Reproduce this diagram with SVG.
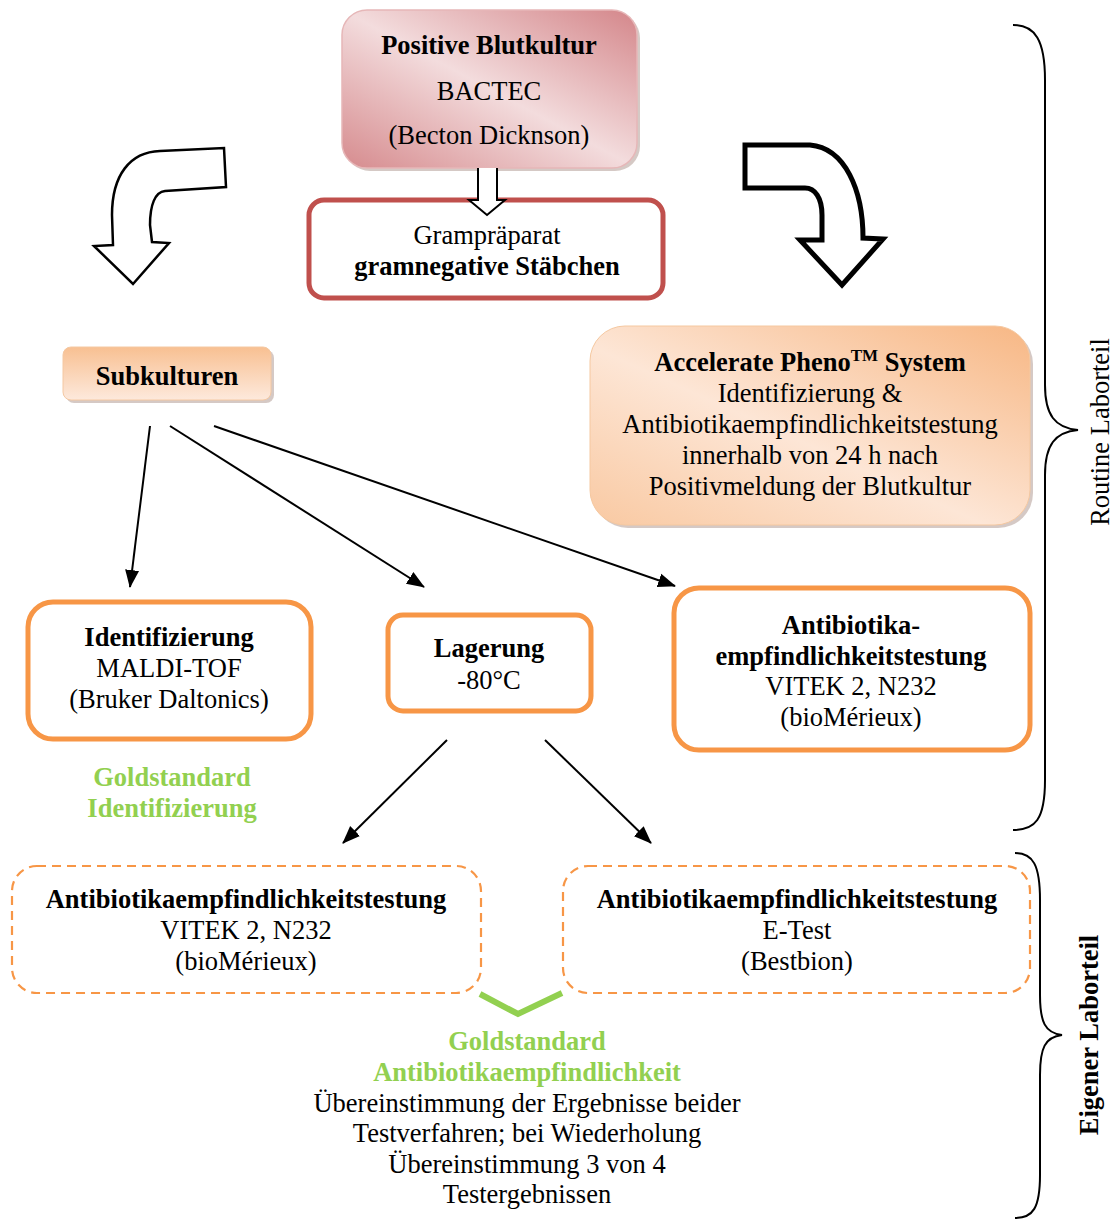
<svg xmlns="http://www.w3.org/2000/svg" width="1116" height="1220" viewBox="0 0 1116 1220">
<defs>
<linearGradient id="gPink" x1="1" y1="0" x2="0" y2="1">
<stop offset="0" stop-color="#d4868a"/>
<stop offset="0.5" stop-color="#f3dcdd"/>
<stop offset="1" stop-color="#d68b8e"/>
</linearGradient>
<linearGradient id="gOr" x1="1" y1="0" x2="0" y2="1">
<stop offset="0" stop-color="#f7b784"/>
<stop offset="0.55" stop-color="#fde6d6"/>
<stop offset="1" stop-color="#f9c9a2"/>
</linearGradient>
<linearGradient id="gOr2" x1="0" y1="0" x2="0" y2="1">
<stop offset="0" stop-color="#f8c092"/>
<stop offset="1" stop-color="#fde9dc"/>
</linearGradient>
<marker id="ahL" markerWidth="18" markerHeight="16" refX="17" refY="8" orient="auto" markerUnits="userSpaceOnUse" viewBox="0 0 18 16">
<path d="M0,1 L18,8 L0,15 Z" fill="#000"/>
</marker>
</defs>
<style>
text{font-family:"Liberation Serif","Times New Roman",serif;font-size:26.5px;fill:#000;text-anchor:middle}
.b{font-weight:bold}
.g{fill:#92d050;font-weight:bold}
.solid{fill:#fff;stroke:#f79646;stroke-width:5}
.dash{fill:#fff;stroke:#f79646;stroke-width:2.2;stroke-dasharray:9 6}
.conn{stroke:#000;stroke-width:2;fill:none}
.shadow{fill:#b9a59f;opacity:0.6}
</style>
<rect width="1116" height="1220" fill="#fff"/>

<g id="blutkultur">
<rect x="345" y="13" width="295" height="158" rx="25" class="shadow"/>
<rect x="342" y="10" width="295" height="158" rx="25" fill="url(#gPink)" stroke="#e6b7b8" stroke-width="1.5"/>
<text class="b" x="489" y="54">Positive Blutkultur</text>
<text x="489" y="100">BACTEC</text>
<text x="489" y="144">(Becton Dicknson)</text>
</g>

<g id="gram">
<rect x="309" y="200" width="354" height="98" rx="15" fill="#fff" stroke="#c0504d" stroke-width="5"/>
<text x="487" y="244">Grampräparat</text>
<text class="b" x="487" y="275">gramnegative Stäbchen</text>
</g>

<g id="subkulturen">
<rect x="66" y="350" width="208" height="53" rx="8" class="shadow"/>
<rect x="63" y="347" width="208" height="53" rx="8" fill="url(#gOr2)" stroke="#f4c8a2" stroke-width="1"/>
<text class="b" x="167" y="385">Subkulturen</text>
</g>

<g id="accelerate">
<rect x="593" y="329" width="440" height="199" rx="35" class="shadow"/>
<rect x="590" y="326" width="440" height="199" rx="35" fill="url(#gOr)" stroke="#f5c8a0" stroke-width="1"/>
<text class="b" x="810" y="371">Accelerate Pheno<tspan dy="-10" font-size="17">TM</tspan><tspan dy="10"> System</tspan></text>
<text x="810" y="402">Identifizierung &amp;</text>
<text x="810" y="433">Antibiotikaempfindlichkeitstestung</text>
<text x="810" y="464">innerhalb von 24 h nach</text>
<text x="810" y="495">Positivmeldung der Blutkultur</text>
</g>

<g id="identifizierung">
<rect x="28" y="602" width="283" height="137" rx="25" class="solid"/>
<text class="b" x="169" y="646">Identifizierung</text>
<text x="169" y="677">MALDI-TOF</text>
<text x="169" y="708">(Bruker Daltonics)</text>
</g>

<g id="lagerung">
<rect x="388" y="615" width="203" height="96" rx="15" class="solid"/>
<text class="b" x="489" y="657">Lagerung</text>
<text x="489" y="689">-80°C</text>
</g>

<g id="ast-routine">
<rect x="674" y="588" width="356" height="162" rx="25" class="solid"/>
<text class="b" x="851" y="634">Antibiotika-</text>
<text class="b" x="851" y="665">empfindlichkeitstestung</text>
<text x="851" y="695">VITEK 2, N232</text>
<text x="851" y="726">(bioMérieux)</text>
</g>

<g id="gold-id">
<text class="g" x="172" y="786">Goldstandard</text>
<text class="g" x="172" y="817">Identifizierung</text>
</g>

<g id="ast-vitek">
<rect x="12" y="866" width="469" height="127" rx="25" class="dash"/>
<text class="b" x="246" y="908">Antibiotikaempfindlichkeitstestung</text>
<text x="246" y="939">VITEK 2, N232</text>
<text x="246" y="970">(bioMérieux)</text>
</g>

<g id="ast-etest">
<rect x="563" y="866" width="467" height="127" rx="25" class="dash"/>
<text class="b" x="797" y="908">Antibiotikaempfindlichkeitstestung</text>
<text x="797" y="939">E-Test</text>
<text x="797" y="970">(Bestbion)</text>
</g>

<g id="gold-ast">
<text class="g" x="527" y="1050">Goldstandard</text>
<text class="g" x="527" y="1081">Antibiotikaempfindlichkeit</text>
<text x="527" y="1112">Übereinstimmung der Ergebnisse beider</text>
<text x="527" y="1142">Testverfahren; bei Wiederholung</text>
<text x="527" y="1173">Übereinstimmung 3 von 4</text>
<text x="527" y="1203">Testergebnissen</text>
</g>

<g id="routine-label">
<text x="0" y="0" transform="translate(1109,432) rotate(-90)">Routine  Laborteil</text>
</g>
<g id="eigener-label">
<text class="b" x="0" y="0" transform="translate(1098,1035) rotate(-90)">Eigener Laborteil</text>
</g>

<g id="connectors">
<path d="M478,168 L478,200 L469,200 L487,215 L505,200 L497,200 L497,168" fill="#fff" stroke="#000" stroke-width="2"/>
<path d="M224,148 L226,187 L165,191 C155,192 150,205 150,225 L152,242 L169,243 L133,284 L94,246 L113,245 L112,215 C112,175 130,152 160,151 Z" fill="#fff" stroke="#000" stroke-width="2.5"/>
<path d="M745,145 L810,145 C845,148 863,190 863,238 L883,239 L842,285 L800,240 L822,240 L822,215 C822,198 815,188 805,188 L745,188 Z" fill="#fff" stroke="#000" stroke-width="5" stroke-linejoin="miter"/>
<line class="conn" x1="150" y1="426" x2="130" y2="587" marker-end="url(#ahL)"/>
<line class="conn" x1="170" y1="426" x2="424" y2="587" marker-end="url(#ahL)"/>
<line class="conn" x1="214" y1="426" x2="675" y2="586" marker-end="url(#ahL)"/>
<line class="conn" x1="447" y1="740" x2="343" y2="843" marker-end="url(#ahL)"/>
<line class="conn" x1="545" y1="740" x2="651" y2="843" marker-end="url(#ahL)"/>
<path d="M480,994 L518,1014 L562,993" fill="none" stroke="#92d050" stroke-width="6"/>
<path d="M1013,25 C1035,25 1045,40 1045,80 L1045,385 C1045,415 1055,428 1078,430 C1055,432 1045,445 1045,475 L1045,780 C1045,820 1035,830 1013,830" fill="none" stroke="#000" stroke-width="2"/>
<path d="M1015,853 C1033,853 1040,865 1040,900 L1040,995 C1040,1022 1045,1033 1062,1035 C1045,1037 1040,1048 1040,1075 L1040,1175 C1040,1208 1033,1218 1015,1218" fill="none" stroke="#000" stroke-width="2"/>
</g>
</svg>
